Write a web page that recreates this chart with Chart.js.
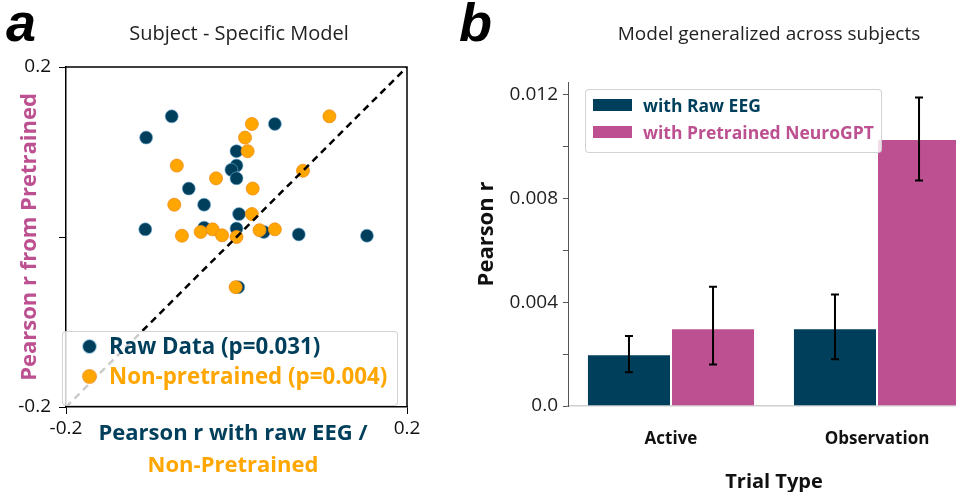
<!DOCTYPE html>
<html>
<head>
<meta charset="utf-8">
<script src="https://cdn.jsdelivr.net/npm/chart.js@4.4.1/dist/chart.umd.min.js"></script>
<style>
  body { margin: 0; width: 956px; height: 492px; overflow: hidden; position: relative; background: #fff; font-family: "Open Sans", sans-serif; }
  .abs { position: absolute; white-space: nowrap; }
  .panel { font-family: "Liberation Sans", Arial, sans-serif; font-weight: bold; font-style: italic; font-size: 54px; line-height: 54px; color: #000; }
  .title { font-size: 20px; line-height: 24px; color: #222; text-align: center; }
  .lgbox { background: rgba(255,255,255,0.8); border: 1px solid rgba(200,200,200,0.8); border-radius: 4px; box-sizing: border-box; }
</style>
</head>
<body>
<canvas id="scatterChart" width="480" height="492" class="abs" style="left:0;top:0"></canvas>
<canvas id="barChart" width="500" height="492" class="abs" style="left:480px;top:0"></canvas>

<div class="abs panel" style="left:6px;top:-5px">a</div>
<div class="abs panel" style="left:459px;top:-5px">b</div>
<div class="abs title" style="left:0;top:21px;width:478px">Subject - Specific Model</div>
<div class="abs title" style="left:569px;top:21px;width:400px;font-size:19px">Model generalized across subjects</div>

<!-- titre axe x, deux couleurs -->
<div class="abs" style="left:0;top:418px;width:466px;text-align:center;font-weight:bold;font-size:22px;line-height:26px;color:#003f5c">Pearson r with raw EEG /</div>
<div class="abs" style="left:0;top:450px;width:466px;text-align:center;font-weight:bold;font-size:22px;line-height:26px;color:#ffa600">Non-Pretrained</div>

<!-- titre axe y, panneau b -->
<div class="abs" style="left:384px;top:221px;width:200px;text-align:center;font-weight:bold;font-size:22px;line-height:26px;color:#111;transform:rotate(-90deg)">Pearson r</div>

<!-- légende gauche -->
<div class="abs lgbox" style="left:62px;top:331px;width:336px;height:75px"></div>
<div class="abs" style="left:83px;top:340px;width:13px;height:13px;border-radius:50%;background:#003f5c;box-shadow:0 0 0 1px rgba(110,170,210,0.6)"></div>
<div class="abs" style="left:83px;top:370px;width:13px;height:13px;border-radius:50%;background:#ffa600;box-shadow:0 0 0 1px rgba(240,140,20,0.8)"></div>
<div class="abs" style="left:109px;top:331px;font-weight:bold;font-size:22.3px;line-height:30px;color:#003f5c">Raw Data (p=0.031)</div>
<div class="abs" style="left:109px;top:361px;font-weight:bold;font-size:22.3px;line-height:30px;color:#ffa600">Non-pretrained (p=0.004)</div>

<!-- légende droite -->
<div class="abs lgbox" style="left:585px;top:89px;width:297px;height:64px"></div>
<div class="abs" style="left:593px;top:99px;width:39px;height:12px;background:#003f5c"></div>
<div class="abs" style="left:593px;top:126px;width:39px;height:12px;background:#bc5090"></div>
<div class="abs" style="left:643px;top:93px;font-weight:bold;font-size:17.5px;line-height:24px;color:#003f5c">with Raw EEG</div>
<div class="abs" style="left:643px;top:120px;font-weight:bold;font-size:17.5px;line-height:24px;color:#bc5090">with Pretrained NeuroGPT</div>

<script>
// --- panneau a : corrélations par sujet ---
const rawX = [-0.076, -0.106, 0.045, 0.0, 0.0, -0.006, 0.0, -0.056, -0.038, 0.003, -0.107, -0.038, 0.0, 0.032, 0.073, 0.153, 0.002];
const rawY = [0.142, 0.117, 0.133, 0.101, 0.084, 0.079, 0.069, 0.057, 0.038, 0.027, 0.009, 0.011, 0.010, 0.006, 0.003, 0.0015, -0.059];
const nonPreX = [0.109, 0.018, 0.010, 0.013, -0.070, 0.078, -0.024, 0.019, -0.073, 0.018, -0.064, -0.042, -0.028, -0.017, 0.0, 0.027, 0.045, -0.001];
const nonPreY = [0.142, 0.133, 0.117, 0.101, 0.084, 0.078, 0.069, 0.057, 0.038, 0.027, 0.0015, 0.006, 0.009, 0.002, 0.0, 0.008, 0.009, -0.059];
const diagX = [-0.2, 0.2];
const diagY = [-0.2, 0.2];
const scatterXTicks = [-0.2, 0.2];
const scatterYTicks = [-0.2, 0.0, 0.2];

// --- panneau b : modèle généralisé ---
const trialTypes = ['Active', 'Observation'];
const rawEEG = [0.0020, 0.0030];
const rawEEGLow = [0.0013, 0.0018];
const rawEEGHigh = [0.0027, 0.0043];
const neuroGPT = [0.0030, 0.0103];
const neuroGPTLow = [0.0016, 0.0087];
const neuroGPTHigh = [0.0046, 0.0119];

const FONT = '"Open Sans", sans-serif';

function toPoints(xs, ys) {
    return xs.map((x, i) => ({ x: x, y: ys[i] }));
}

// cadre complet autour du nuage de points
const boxFrame = {
    id: 'boxFrame',
    afterDraw(chart) {
        const a = chart.chartArea, ctx = chart.ctx;
        ctx.save();
        ctx.strokeStyle = '#000';
        ctx.lineWidth = 1.5;
        ctx.beginPath();
        ctx.moveTo(a.left, a.top);
        ctx.lineTo(a.right, a.top);
        ctx.lineTo(a.right, a.bottom);
        ctx.stroke();
        ctx.restore();
    }
};

// barres d'erreur
const errorBars = {
    id: 'errorBars',
    afterDatasetsDraw(chart) {
        const ctx = chart.ctx, ys = chart.scales.y;
        const bounds = [[rawEEGLow, rawEEGHigh], [neuroGPTLow, neuroGPTHigh]];
        ctx.save();
        ctx.strokeStyle = '#000';
        ctx.lineWidth = 2;
        bounds.forEach((b, di) => {
            chart.getDatasetMeta(di).data.forEach((bar, i) => {
                const y1 = ys.getPixelForValue(b[0][i]);
                const y2 = ys.getPixelForValue(b[1][i]);
                ctx.beginPath();
                ctx.moveTo(bar.x, y1); ctx.lineTo(bar.x, y2);
                ctx.moveTo(bar.x - 4, y1); ctx.lineTo(bar.x + 4, y1);
                ctx.moveTo(bar.x - 4, y2); ctx.lineTo(bar.x + 4, y2);
                ctx.stroke();
            });
        });
        ctx.restore();
    }
};

new Chart(document.getElementById('scatterChart'), {
    type: 'scatter',
    data: {
        datasets: [
            {
                type: 'line',
                data: toPoints(diagX, diagY),
                borderColor: '#000',
                borderWidth: 2.5,
                borderDash: [7, 5],
                pointRadius: 0,
                fill: false,
                order: 0
            },
            {
                label: 'Non-pretrained (p=0.004)',
                data: toPoints(nonPreX, nonPreY),
                backgroundColor: '#ffa600',
                borderColor: 'rgba(240,140,20,0.8)',
                borderWidth: 1,
                pointRadius: 6.5,
                order: 1
            },
            {
                label: 'Raw Data (p=0.031)',
                data: toPoints(rawX, rawY),
                backgroundColor: '#003f5c',
                borderColor: 'rgba(110,170,210,0.6)',
                borderWidth: 1,
                pointRadius: 6.5,
                order: 2
            }
        ]
    },
    options: {
        responsive: false,
        animation: false,
        devicePixelRatio: 1,
        layout: { padding: { left: 0, right: 73, top: 67, bottom: 0 } },
        plugins: { legend: { display: false }, tooltip: { enabled: false } },
        scales: {
            x: {
                type: 'linear', min: -0.2, max: 0.2,
                afterFit: s => { s.height = 85; },
                afterBuildTicks: s => { s.ticks = scatterXTicks.map(v => ({ value: v })); },
                grid: { drawOnChartArea: false, tickLength: 7, color: '#000' },
                border: { color: '#000', width: 1.5 },
                ticks: {
                    padding: 3, color: '#111',
                    font: { family: FONT, size: 19 },
                    callback: v => v.toFixed(1)
                }
            },
            y: {
                type: 'linear', min: -0.2, max: 0.2,
                afterFit: s => { s.width = 66; },
                afterBuildTicks: s => { s.ticks = scatterYTicks.map(v => ({ value: v })); },
                grid: { drawOnChartArea: false, tickLength: 7, color: '#000' },
                border: { color: '#000', width: 1.5 },
                ticks: {
                    padding: 8, color: '#111',
                    font: { family: FONT, size: 19 },
                    callback: v => Math.abs(v) < 1e-9 ? '' : v.toFixed(1)
                },
                title: {
                    display: true, text: 'Pearson r from Pretrained', color: '#bc5090',
                    font: { family: FONT, size: 22, weight: 'bold' },
                    padding: { top: 17, bottom: 0 }
                }
            }
        }
    },
    plugins: [boxFrame]
});

new Chart(document.getElementById('barChart'), {
    type: 'bar',
    data: {
        labels: trialTypes,
        datasets: [
            { label: 'with Raw EEG', data: rawEEG, backgroundColor: '#003f5c', borderColor: 'rgba(255,255,255,0.7)', borderWidth: 1 },
            { label: 'with Pretrained NeuroGPT', data: neuroGPT, backgroundColor: '#bc5090', borderColor: 'rgba(255,255,255,0.7)', borderWidth: 1 }
        ]
    },
    options: {
        responsive: false,
        animation: false,
        devicePixelRatio: 1,
        layout: { padding: { left: 0, right: 0, top: 82, bottom: 0 } },
        datasets: { bar: { barPercentage: 1.0, categoryPercentage: 0.816 } },
        plugins: { legend: { display: false }, tooltip: { enabled: false } },
        scales: {
            x: {
                afterFit: s => { s.height = 86; },
                grid: { display: false },
                border: { color: '#d0d0d0', width: 1.5 },
                ticks: { padding: 15, color: '#111', font: { family: FONT, size: 17, weight: 'bold' } },
                title: {
                    display: true, text: 'Trial Type', color: '#111',
                    font: { family: FONT, size: 20, weight: 'bold' },
                    padding: { top: 0, bottom: -2 }
                }
            },
            y: {
                min: 0, max: 0.0125,
                afterFit: s => { s.width = 88; },
                grid: { drawOnChartArea: false, tickLength: 5, color: '#555' },
                border: { color: '#555', width: 1 },
                ticks: {
                    stepSize: 0.002, includeBounds: false, padding: 5, color: '#222',
                    font: { family: FONT, size: 19 },
                    callback: v => {
                        const k = Math.round(v / 0.002);
                        if (k % 2 !== 0) return '';
                        return k === 0 ? '0.0' : (k * 0.002).toFixed(3);
                    }
                }
            }
        }
    },
    plugins: [errorBars]
});
</script>
</body>
</html>
